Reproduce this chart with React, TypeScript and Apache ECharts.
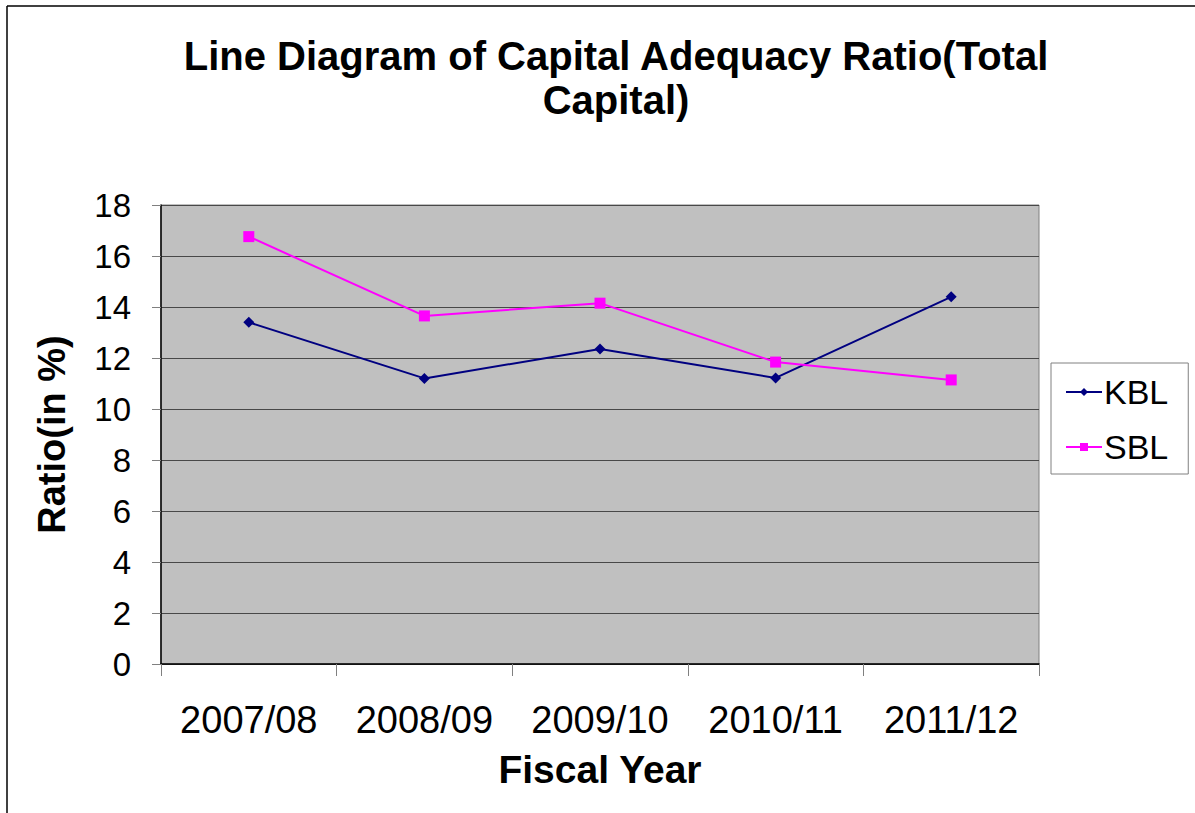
import React, { useEffect, useRef } from "react";
import * as echarts from "echarts";

const categories = ["2007/08", "2008/09", "2009/10", "2010/11", "2011/12"];
const kblValues = [13.4, 11.2, 12.35, 11.22, 14.4];
const sblValues = [16.76, 13.65, 14.15, 11.84, 11.14];
const yTicks = { min: 0, max: 18, interval: 2 };

const FONT = "'Liberation Sans', Arial, sans-serif";

export default function App() {
  const ref = useRef<HTMLDivElement>(null);
  useEffect(() => {
    if (!ref.current) return;
    const chart = echarts.init(ref.current, null, { renderer: "svg" });
    chart.setOption({
      animation: false,
      backgroundColor: "#ffffff",
      textStyle: { fontFamily: FONT },
      title: {
        text: "Line Diagram of Capital Adequacy Ratio(Total\nCapital)",
        left: 611,
        textAlign: "center",
        top: 29,
        textStyle: {
          fontFamily: FONT,
          fontSize: 40,
          fontWeight: "bold",
          color: "#000",
          lineHeight: 44,
        },
      },
      graphic: [
        { type: "line", shape: { x1: 7, y1: 6, x2: 1195, y2: 6 }, style: { stroke: "#000", lineWidth: 1.5 } },
        { type: "line", shape: { x1: 7, y1: 6, x2: 7, y2: 813 }, style: { stroke: "#000", lineWidth: 1.5 } },
      ],
      grid: {
        left: 161,
        top: 205,
        right: 156,
        bottom: 149,
        show: true,
        backgroundColor: "#C0C0C0",
        borderColor: "#808080",
        borderWidth: 1,
      },
      legend: {
        orient: "vertical",
        left: 1051,
        top: 363,
        width: 137,
        padding: [12, 20, 10, 14],
        itemGap: 21,
        itemWidth: 36,
        itemHeight: 10,
        borderColor: "#808080",
        borderWidth: 1,
        textStyle: { fontFamily: FONT, fontSize: 34, color: "#000", padding: [0, 0, 0, -3] },
        data: ["KBL", "SBL"],
      },
      xAxis: {
        type: "category",
        data: categories,
        boundaryGap: true,
        axisLine: { lineStyle: { color: "#000", width: 1.5 } },
        axisTick: { show: true, interval: 0, length: 12, inside: false, lineStyle: { color: "#808080" } },
        axisLabel: { interval: 0, hideOverlap: false, fontFamily: FONT, fontSize: 38, color: "#000", margin: 37 },
        name: "Fiscal Year",
        nameLocation: "middle",
        nameGap: 86,
        nameTextStyle: { fontFamily: FONT, fontSize: 39, fontWeight: "bold", color: "#000" },
      },
      yAxis: {
        type: "value",
        min: yTicks.min,
        max: yTicks.max,
        interval: yTicks.interval,
        axisLine: { show: true, lineStyle: { color: "#000", width: 1.5 } },
        axisTick: { show: true, length: 9, lineStyle: { color: "#808080" } },
        axisLabel: { fontFamily: FONT, fontSize: 33, color: "#000", margin: 30 },
        splitLine: { show: true, lineStyle: { color: "#484848", width: 1.2 } },
        name: "Ratio(in %)",
        nameLocation: "middle",
        nameRotate: 90,
        nameGap: 90,
        nameTextStyle: { fontFamily: FONT, fontSize: 38, fontWeight: "bold", color: "#000" },
      },
      series: [
        {
          name: "KBL",
          type: "line",
          data: kblValues,
          symbol: "diamond",
          symbolSize: 11,
          lineStyle: { color: "#000080", width: 2 },
          itemStyle: { color: "#000080" },
        },
        {
          name: "SBL",
          type: "line",
          data: sblValues,
          symbol: "rect",
          symbolSize: 11,
          lineStyle: { color: "#FF00FF", width: 2 },
          itemStyle: { color: "#FF00FF" },
        },
      ],
    });
    return () => chart.dispose();
  }, []);
  return (
    <div
      ref={ref}
      style={{ position: "fixed", left: 0, top: 0, width: 1195, height: 813 }}
    />
  );
}
